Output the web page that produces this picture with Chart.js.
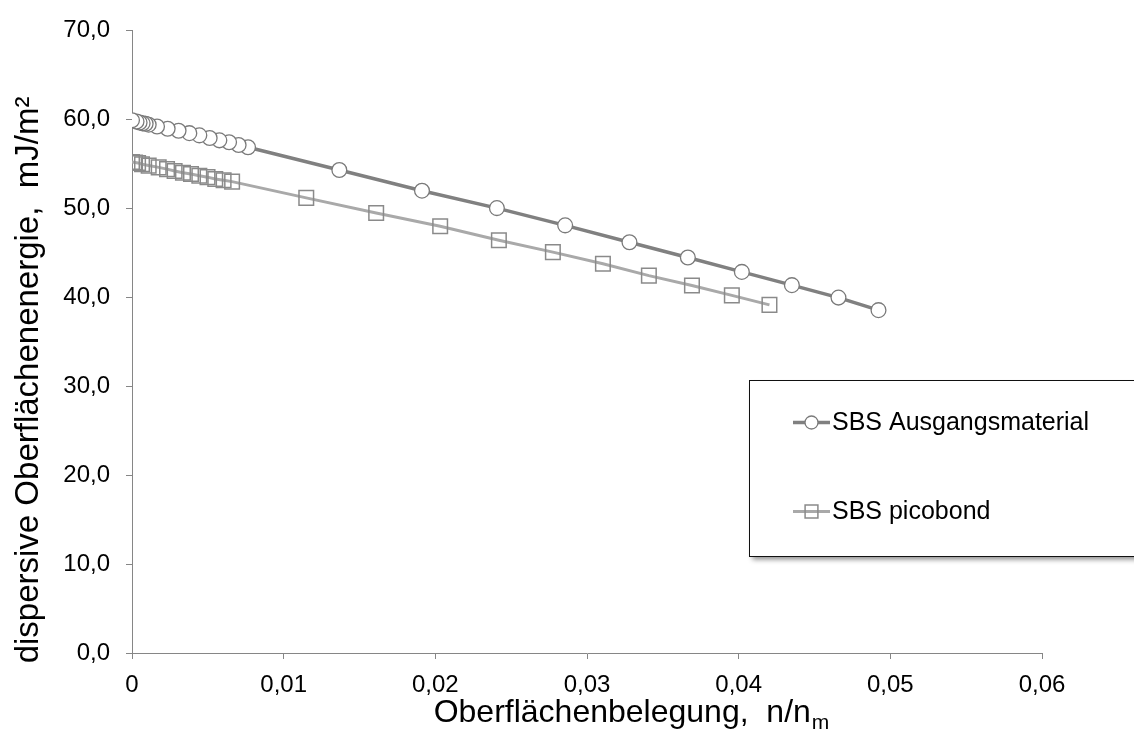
<!DOCTYPE html>
<html>
<head>
<meta charset="utf-8">
<script src="https://cdn.jsdelivr.net/npm/chart.js@4.4.0/dist/chart.umd.min.js"></script>
<style>
  html, body { margin: 0; padding: 0; background: #fff; }
  #wrap { width: 1134px; height: 742px; position: relative; }
</style>
</head>
<body>
<div id="wrap"><canvas id="chart"></canvas></div>
<script>
// ── data ────────────────────────────────────────────────────────────────
const seriesNames = ['SBS Ausgangsmaterial', 'SBS picobond'];

const ausgangX = [0, 0.0003, 0.0005, 0.0007, 0.0009, 0.0011, 0.00165, 0.00235, 0.00307, 0.00378,
                  0.00444, 0.00512, 0.00576, 0.0064, 0.00703, 0.00765, 0.01367, 0.01912, 0.02406,
                  0.02856, 0.0328, 0.03665, 0.04021, 0.04351, 0.04658, 0.04922];
const ausgangY = [59.9, 59.75, 59.65, 59.55, 59.5, 59.4, 59.2, 58.94, 58.72, 58.45,
                  58.2, 57.9, 57.64, 57.42, 57.12, 56.86, 54.31, 51.98, 50.02,
                  48.08, 46.18, 44.47, 42.85, 41.36, 39.96, 38.55];

const picoX = [0, 0.0002, 0.0004, 0.00066, 0.0011, 0.00176, 0.00231, 0.00281, 0.00336, 0.00389,
               0.00444, 0.00498, 0.00549, 0.00604, 0.0066, 0.01149, 0.0161, 0.02032, 0.02419,
               0.02775, 0.03105, 0.03408, 0.03692, 0.03955, 0.04203];
const picoY = [55.2, 55.15, 55.1, 54.95, 54.8, 54.6, 54.4, 54.2, 54.0, 53.85,
               53.65, 53.5, 53.3, 53.15, 53.0, 51.17, 49.46, 47.98, 46.4,
               45.07, 43.77, 42.43, 41.32, 40.21, 39.14];

const xTicks = [0, 0.01, 0.02, 0.03, 0.04, 0.05, 0.06];
const yTicks = [0, 10, 20, 30, 40, 50, 60, 70];

const xTitle = 'Oberflächenbelegung,  n/n';
const xTitleSub = 'm';
const yTitle = 'dispersive Oberflächenenergie,  mJ/m²';

// ── helpers ─────────────────────────────────────────────────────────────
const FONT = "'Liberation Sans', Arial, sans-serif";
const AXIS = '#868686';

function points(xs, ys) {
  // drawn last-to-first so the x = 0 marker ends up on top
  return xs.map((x, i) => ({ x, y: ys[i] })).reverse();
}
const comma = (v, d) => v.toFixed(d).replace('.', ',');

// ── titles + legend box ─────────────────────────────────────────────────
const decorations = {
  id: 'decorations',
  afterDraw(chart) {
    const ctx = chart.ctx;
    ctx.save();

    // x title with subscript
    ctx.fillStyle = '#000';
    ctx.textBaseline = 'alphabetic';
    ctx.font = '32px ' + FONT;
    const mainW = ctx.measureText(xTitle).width;
    ctx.font = '21px ' + FONT;
    const subW = ctx.measureText(xTitleSub).width;
    const x0 = 631 - (mainW + subW) / 2;
    ctx.font = '32px ' + FONT;
    ctx.textAlign = 'left';
    ctx.fillText(xTitle, x0, 722);
    ctx.font = '21px ' + FONT;
    ctx.fillText(xTitleSub, x0 + mainW + 1, 729);

    // y title
    ctx.save();
    ctx.translate(29, 380);
    ctx.rotate(-Math.PI / 2);
    ctx.font = '33px ' + FONT;
    ctx.textAlign = 'center';
    ctx.textBaseline = 'middle';
    ctx.fillText(yTitle, 0, 0);
    ctx.restore();

    // legend box
    ctx.save();
    ctx.shadowColor = 'rgba(0,0,0,0.45)';
    ctx.shadowBlur = 5;
    ctx.shadowOffsetX = 2;
    ctx.shadowOffsetY = 3;
    ctx.fillStyle = '#fff';
    ctx.fillRect(749.5, 380.5, 420, 176);
    ctx.restore();
    ctx.strokeStyle = '#111';
    ctx.lineWidth = 1;
    ctx.strokeRect(749.5, 380.5, 420, 176);

    const rows = [422.5, 511.5];
    chart.data.datasets.forEach((ds, i) => {
      const y = rows[i];
      ctx.strokeStyle = ds.borderColor;
      ctx.lineWidth = ds.borderWidth;
      ctx.beginPath();
      ctx.moveTo(793, y);
      ctx.lineTo(830, y);
      ctx.stroke();
      ctx.fillStyle = ds.pointBackgroundColor;
      ctx.strokeStyle = ds.pointBorderColor;
      ctx.lineWidth = ds.pointBorderWidth;
      Chart.helpers.drawPoint(ctx, {
        pointStyle: ds.pointStyle,
        radius: ds.pointRadius * 0.88,
        borderWidth: ds.pointBorderWidth,
        rotation: 0
      }, 811.5, y);
      ctx.fillStyle = '#000';
      ctx.font = '25px ' + FONT;
      ctx.textAlign = 'left';
      ctx.textBaseline = 'middle';
      ctx.fillText(ds.label, 832, y + 1);
    });

    ctx.restore();
  }
};

// ── chart ───────────────────────────────────────────────────────────────
new Chart(document.getElementById('chart'), {
  type: 'scatter',
  data: {
    datasets: [
      {
        label: seriesNames[0],
        data: points(ausgangX, ausgangY),
        showLine: true,
        borderColor: '#808080',
        borderWidth: 3.5,
        pointStyle: 'circle',
        pointRadius: 7.4,
        pointBorderWidth: 1.3,
        pointBorderColor: '#7a7a7a',
        pointBackgroundColor: '#fff'
      },
      {
        label: seriesNames[1],
        data: points(picoX, picoY),
        showLine: true,
        borderColor: '#a9a9a9',
        borderWidth: 3,
        pointStyle: 'rect',
        pointRadius: 10.3,
        pointBorderWidth: 1.5,
        pointBorderColor: '#8a8a8a',
        pointBackgroundColor: 'rgba(255,255,255,0)'
      }
    ]
  },
  options: {
    responsive: true,
    maintainAspectRatio: false,
    animation: false,
    events: [],
    layout: { padding: { top: 25, right: 92, left: 0, bottom: 0 } },
    plugins: {
      legend: { display: false },
      tooltip: { enabled: false }
    },
    scales: {
      x: {
        type: 'linear',
        min: 0,
        max: 0.06,
        afterFit: s => { s.height = 89; },
        afterBuildTicks: s => { s.ticks = xTicks.map(v => ({ value: v })); },
        border: { color: AXIS, width: 1 },
        grid: { drawOnChartArea: false, drawTicks: true, tickLength: 6, color: AXIS },
        ticks: {
          color: '#000',
          padding: 12,
          maxRotation: 0,
          font: { family: FONT, size: 24 },
          callback: v => (v === 0 ? '0' : comma(v, 2))
        }
      },
      y: {
        type: 'linear',
        min: 0,
        max: 70,
        afterFit: s => { s.width = 132; },
        afterBuildTicks: s => { s.ticks = yTicks.map(v => ({ value: v })); },
        border: { color: AXIS, width: 1 },
        grid: { drawOnChartArea: false, drawTicks: true, tickLength: 6, color: AXIS },
        ticks: {
          color: '#000',
          padding: 16,
          font: { family: FONT, size: 24 },
          callback: v => comma(v, 1)
        }
      }
    }
  },
  plugins: [decorations]
});
</script>
</body>
</html>
